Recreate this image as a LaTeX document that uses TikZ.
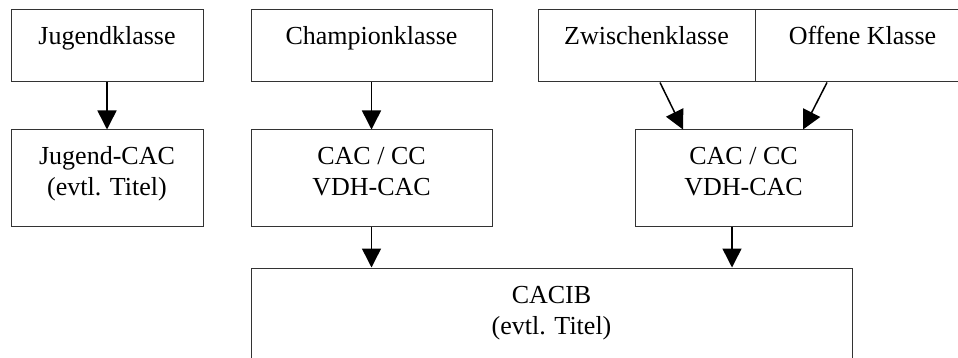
\documentclass[tikz,border=0pt]{standalone}
\usepackage{fontspec}
\setmainfont{Liberation Serif}
\usetikzlibrary{arrows.meta}
\begin{document}
\begin{tikzpicture}[x=1pt,y=-1pt,
  box/.style={draw=black!80, line width=1pt, rectangle, inner sep=0pt},
  txt/.style={anchor=base, inner sep=0pt, font=\fontsize{26}{30}\selectfont},
  arr/.style={draw=black, line width=1.5pt, -{Triangle[width=19pt,length=19pt]}}]
\useasboundingbox (0,0) rectangle (958,358);
\clip (0,0) rectangle (958,358);
\fill[white] (0,0) rectangle (958,358);
% boxes
\node[box, minimum width=192pt, minimum height=72pt] (J) at (107,46) {};
\node[box, minimum width=241pt, minimum height=72pt] (C) at (371.5,46) {};
\node[box, minimum width=217pt, minimum height=72pt] (Z) at (646.5,46) {};
\node[box, minimum width=215pt, minimum height=72pt] (O) at (862.5,46) {};
\node[box, minimum width=192pt, minimum height=96pt] (JC) at (107,178) {};
\node[box, minimum width=241pt, minimum height=96pt] (CC1) at (371.5,178) {};
\node[box, minimum width=217pt, minimum height=96pt] (CC2) at (743.5,178) {};
\node[box, minimum width=601pt, minimum height=132pt] (CB) at (551.5,334) {};
% texts
\node[txt] (tJ) at (107,45) {Jugendklasse};
\node[txt] (tC) at (371.5,45) {Championklasse};
\node[txt] (tZ) at (646.5,45) {Zwischenklasse};
\node[txt] (tO) at (862.5,45) {Offene Klasse};
\node[txt] (tJCa) at (107,165) {Jugend-CAC};
\node[txt] (tJCb) at (107,196) {(evtl. Titel)};
\node[txt] (tCCa) at (371.5,165) {CAC / CC};
\node[txt] (tCCb) at (371.5,196) {VDH-CAC};
\node[txt] (tCDa) at (743.5,165) {CAC / CC};
\node[txt] (tCDb) at (743.5,196) {VDH-CAC};
\node[txt] (tCBa) at (551.5,303) {CACIB};
\node[txt] (tCBb) at (551.5,334) {(evtl. Titel)};
% arrows
\draw[arr] (J.south) -- (JC.north);
\draw[arr] (C.south) -- (CC1.north);
\draw[arr] ([xshift=13.5pt]Z.south) -- ([xshift=-60.5pt]CC2.north);
\draw[arr] ([xshift=-35.5pt]O.south) -- ([xshift=59.5pt]CC2.north);
\draw[arr] (CC1.south) -- (CC1.south |- CB.north);
\draw[arr] ([xshift=-11.5pt]CC2.south) -- ([xshift=-11.5pt]CC2.south |- CB.north);
\end{tikzpicture}
\end{document}
